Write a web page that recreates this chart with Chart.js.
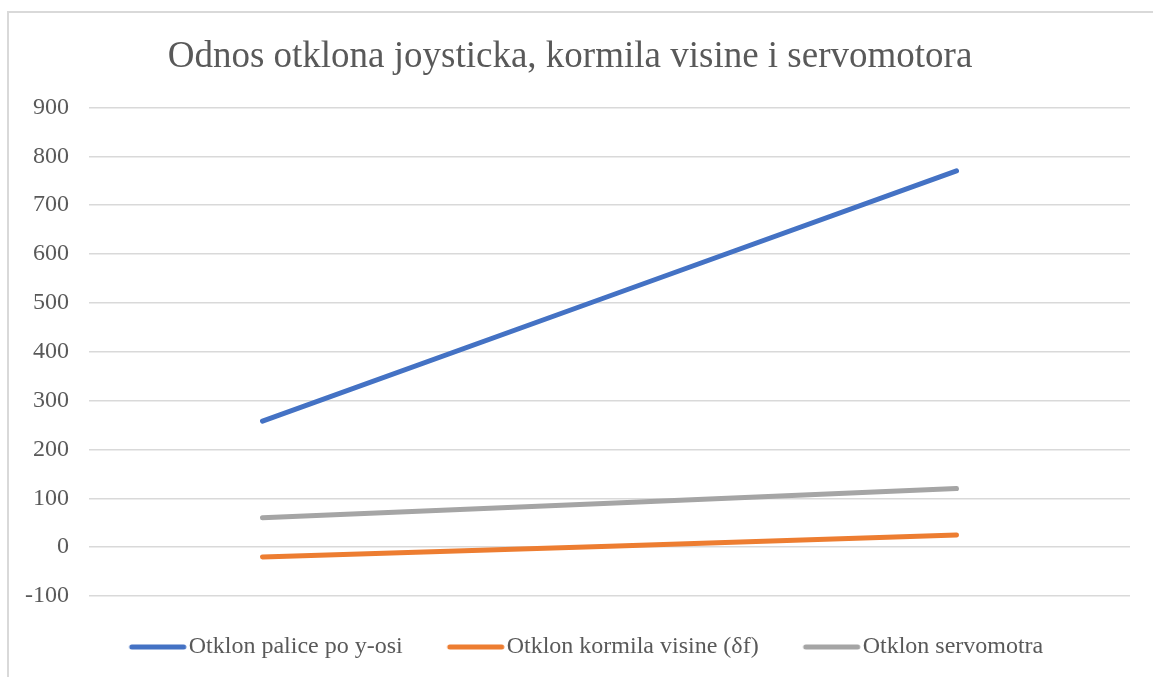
<html lang="hr">
<head>
    <meta charset="UTF-8">
    <script src="https://cdn.jsdelivr.net/npm/chart.js@4.4.0/dist/chart.umd.min.js"></script>
    <title>Odnos otklona</title>
    <style>
        html, body { margin: 0; padding: 0; background: #fff; overflow: hidden; }
        #frame { position: absolute; left: 7px; top: 11px; width: 1160px; height: 680px; border: 2px solid #d9d9d9; box-sizing: border-box; }
        #wrap { position: absolute; left: 0; top: 0; width: 1153px; height: 677px; }
    </style>
</head>
<body>
    <div id="frame"></div>
    <div id="wrap">
        <canvas id="myChart" width="1153" height="677"></canvas>
    </div>

    <script>
        // data
        var categories = ['1', '2', '3']
        var palice = [258, 514, 770]
        var kormilo = [-20, 2, 25]
        var servo = [60, 90, 120]
        var yTicks = [-100, 0, 100, 200, 300, 400, 500, 600, 700, 800, 900]

        var font = 'Liberation Serif, Times New Roman, serif'
        var txt = '#595959'

        // legend marker: 55px line sitting right before the text
        function legendLine(color) {
            var c = document.createElement('canvas')
            c.width = 102
            c.height = 8
            var g = c.getContext('2d')
            g.strokeStyle = color
            g.lineWidth = 5
            g.lineCap = 'round'
            g.beginPath()
            g.moveTo(46, 4)
            g.lineTo(98, 4)
            g.stroke()
            return c
        }

        function series(label, data, color) {
            return {
                label: label,
                data: data,
                borderColor: color,
                backgroundColor: color,
                borderWidth: 5,
                borderCapStyle: 'round',
                borderJoinStyle: 'round',
                pointRadius: 0,
                pointStyle: legendLine(color),
                tension: 0,
                fill: false
            }
        }

        var ctx = document.getElementById('myChart').getContext('2d')
        var chart = new Chart(ctx, {
            type: 'line',
            data: {
                labels: categories,
                datasets: [
                    series('Otklon palice po y-osi', palice, '#4472C4'),
                    series('Otklon kormila visine (\u03B4f)', kormilo, '#ED7D31'),
                    series('Otklon servomotra', servo, '#A5A5A5')
                ]
            },
            options: {
                responsive: false,
                animation: false,
                layout: { padding: { left: 10, right: 23, top: 20, bottom: 8 } },
                plugins: {
                    title: {
                        display: true,
                        text: 'Odnos otklona joysticka, kormila visine i servomotora',
                        color: txt,
                        font: { family: font, size: 37, weight: 'normal' },
                        padding: { top: 15, bottom: 28 }
                    },
                    legend: {
                        position: 'bottom',
                        labels: {
                            color: txt,
                            font: { family: font, size: 24 },
                            usePointStyle: true,
                            pointStyleWidth: 80,
                            boxWidth: 80,
                            padding: 12
                        }
                    },
                    tooltip: { enabled: false }
                },
                scales: {
                    x: {
                        offset: true,
                        grid: { display: false },
                        border: { display: false },
                        ticks: { display: false },
                        afterFit: function (axis) { axis.height = 27 }
                    },
                    y: {
                        min: -100,
                        max: 900,
                        afterBuildTicks: function (axis) {
                            axis.ticks = yTicks.map(function (v) { return { value: v } })
                        },
                        afterFit: function (axis) { axis.width = 79 },
                        grid: { color: '#d9d9d9', lineWidth: 1.5, drawTicks: false },
                        border: { display: false },
                        ticks: {
                            color: txt,
                            padding: 20,
                            font: { family: font, size: 24 }
                        }
                    }
                }
            }
        })
    </script>
</body>
</html>
